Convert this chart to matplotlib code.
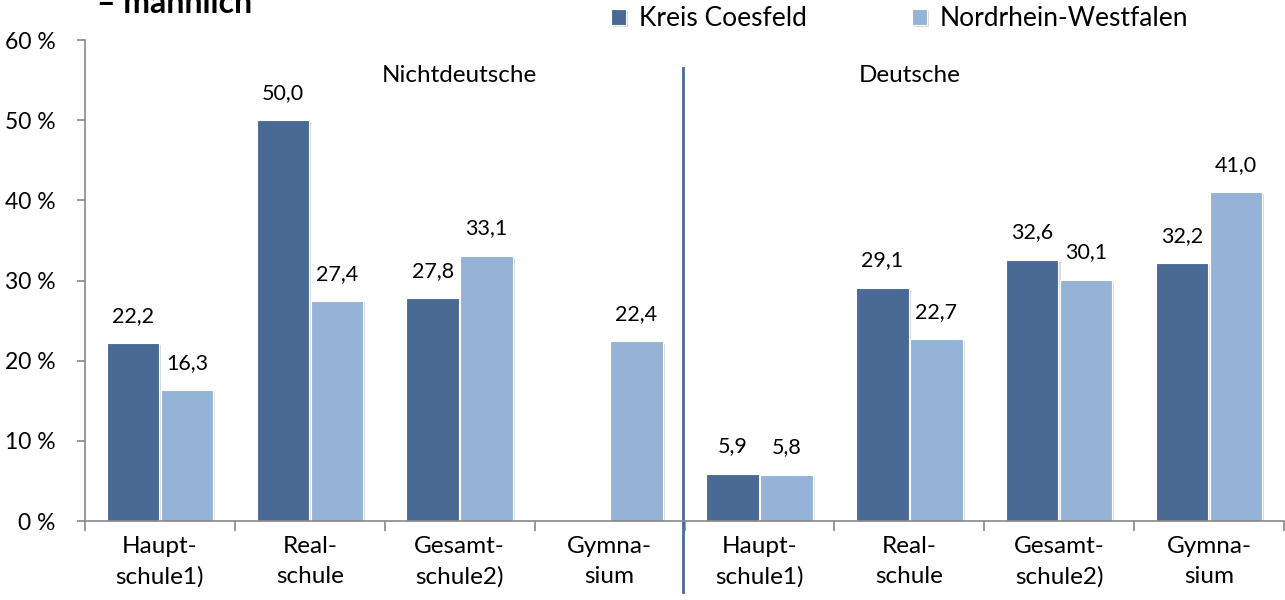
import numpy as np
import matplotlib
matplotlib.use("Agg")
from matplotlib import pyplot as plt
from matplotlib import patheffects as pe

plt.rcParams['font.family'] = ['Lato', 'DejaVu Sans']

# categories (Nichtdeutsche first four, Deutsche last four)
categories = ['Haupt-\nschule1)', 'Real-\nschule', 'Gesamt-\nschule2)', 'Gymna-\nsium',
              'Haupt-\nschule1)', 'Real-\nschule', 'Gesamt-\nschule2)', 'Gymna-\nsium']
kreis_coesfeld = [22.2, 50.0, 27.8, np.nan, 5.9, 29.1, 32.6, 32.2]
nrw = [16.3, 27.4, 33.1, 22.4, 5.8, 22.7, 30.1, 41.0]
series_names = ['Kreis Coesfeld', 'Nordrhein-Westfalen']
group_names = ['Nichtdeutsche', 'Deutsche']
yticks = [0, 10, 20, 30, 40, 50, 60]

dark = '#4a6a96'
light = '#95b3d7'

fig = plt.figure(figsize=(12.85, 6), dpi=100)
ax = fig.add_axes([85 / 1285, 79 / 600, 1199 / 1285, 481 / 600])

x = np.arange(len(categories))
w = 0.35
shadow = [pe.SimplePatchShadow(offset=(1.5, -1.5), shadow_rgbFace='#999999', alpha=0.35), pe.Normal()]

b1 = ax.bar(x - 0.18, kreis_coesfeld, w, color=dark, edgecolor='white', linewidth=0.8,
            label=series_names[0], path_effects=shadow)
b2 = ax.bar(x + 0.18, nrw, w, color=light, edgecolor='white', linewidth=0.8,
            label=series_names[1], path_effects=shadow)

for bars, vals in [(b1, kreis_coesfeld), (b2, nrw)]:
    for rect, v in zip(bars, vals):
        if np.isnan(v):
            continue
        ax.text(rect.get_x() + rect.get_width() / 2, v + 3.4, f'{v:.1f}'.replace('.', ','),
                ha='center', va='center', fontsize=15.5)

ax.set_xlim(-0.5, len(categories) - 0.5)
ax.set_ylim(0, 60)
ax.set_yticks(yticks)
ax.set_yticklabels([f'{t} %' for t in yticks], fontsize=16.5)
ax.set_xticks(x)
ax.set_xticklabels(categories, fontsize=17.5, linespacing=1.5)
ax.tick_params(axis='x', length=0, pad=11)
ax.set_xticks(np.arange(-0.5, len(categories)), minor=True)
ax.tick_params(axis='x', which='minor', length=7, color='#888888', width=1.2)
ax.tick_params(axis='y', length=6, color='#888888', width=1.2, pad=15)

for s in ['top', 'right']:
    ax.spines[s].set_visible(False)
for s in ['left', 'bottom']:
    ax.spines[s].set_color('#888888')
    ax.spines[s].set_linewidth(1.2)

# divider between groups
ax.plot([3.49, 3.49], [56.5, -8.9], color='#4a6a9f', linewidth=2, clip_on=False)
ax.text(2.0, 55.6, group_names[0], ha='center', va='center', fontsize=17.5)
ax.text(5.0, 55.6, group_names[1], ha='center', va='center', fontsize=17.5)

fig.legend(handles=[b1, b2], labels=series_names, loc='center left',
           bbox_to_anchor=(598 / 1285, 1 - 19 / 600), ncol=2, frameon=False,
           fontsize=19, handlelength=0.55, handleheight=0.55, handletextpad=0.5,
           columnspacing=4.0, borderpad=0)

fig.text(97 / 1285, 1 - 13 / 600, '– männlich', fontsize=23, fontweight='bold',
         ha='left', va='baseline')

fig.savefig('out.png', dpi=100)
